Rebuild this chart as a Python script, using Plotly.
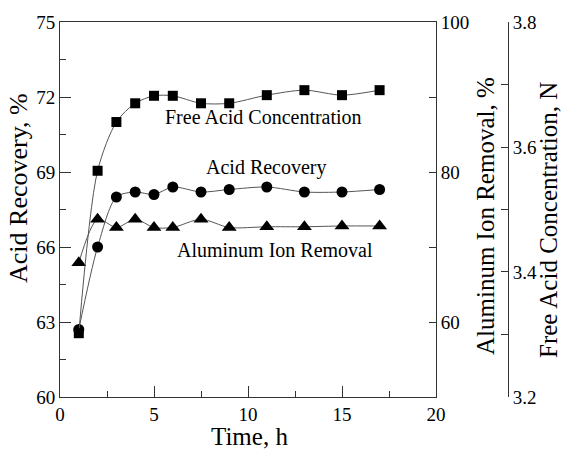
import plotly.graph_objects as go

time_h = [1, 2, 3, 4, 5, 6, 7.5, 9, 11, 13, 15, 17]
acid_recovery = [62.7, 66.0, 68.0, 68.2, 68.1, 68.4, 68.2, 68.3, 68.4, 68.2, 68.2, 68.3]
al_removal = [67.9, 73.7, 72.6, 73.7, 72.6, 72.6, 73.7, 72.6, 72.7, 72.7, 72.8, 72.8]
free_acid = [3.302, 3.562, 3.640, 3.670, 3.682, 3.682, 3.670, 3.670, 3.683, 3.691, 3.683, 3.691]

FONT = "Liberation Serif"
LINE = "#555555"
AX = "#333333"

W, H = 562, 462
ML, MR, MT, MB = 60, 40, 22, 65
PW = W - ML - MR
PH = H - MT - MB
x_end = (436 - ML) / PW
y3_pos = (508 - ML) / PW

def px(xp):
    return (xp - ML) / PW

def py(yp):
    return (MT + PH - yp) / PH

fig = go.Figure()
fig.add_trace(go.Scatter(x=time_h, y=free_acid, yaxis="y3", mode="lines+markers",
                         line=dict(color=LINE, width=1, shape="spline", smoothing=0.8),
                         marker=dict(symbol="square", size=10, color="black")))
fig.add_trace(go.Scatter(x=time_h, y=acid_recovery, yaxis="y", mode="lines+markers",
                         line=dict(color=LINE, width=1, shape="spline", smoothing=0.8),
                         marker=dict(symbol="circle", size=11, color="black")))
fig.add_trace(go.Scatter(x=time_h, y=al_removal, yaxis="y2", mode="lines+markers",
                         line=dict(color=LINE, width=1, shape="spline", smoothing=0.8),
                         marker=dict(symbol="triangle-up", size=13, color="black")))

tickfont = dict(family=FONT, size=19, color="black")

fig.update_layout(
    width=W, height=H,
    margin=dict(l=ML, r=MR, t=MT, b=MB),
    paper_bgcolor="white", plot_bgcolor="white",
    showlegend=False,
    font=dict(family=FONT, color="black"),
    xaxis=dict(domain=[0, x_end], range=[0, 20], dtick=5, tick0=0,
               showgrid=False, zeroline=False, showline=True, linecolor=AX, linewidth=1,
               mirror=True, ticks="inside", ticklen=11, tickcolor=AX,
               minor=dict(dtick=2.5, ticks="inside", ticklen=6, tickcolor=AX),
               tickfont=tickfont),
    yaxis=dict(range=[60, 75], dtick=3, tick0=60,
               showgrid=False, zeroline=False, showline=True, linecolor=AX, linewidth=1,
               ticks="inside", ticklen=11, tickcolor=AX,
               minor=dict(dtick=1.5, ticks="inside", ticklen=6, tickcolor=AX),
               tickfont=tickfont),
    yaxis2=dict(range=[50, 100], dtick=20, tick0=0, overlaying="y", side="right", anchor="x",
                showgrid=False, zeroline=False, showline=True, linecolor=AX, linewidth=1,
                ticks="inside", ticklen=7, tickcolor=AX,
                minor=dict(dtick=10, ticks="inside", ticklen=7, tickcolor=AX),
                tickfont=tickfont),
    yaxis3=dict(range=[3.1999, 3.8001], dtick=0.2, tick0=3.2, overlaying="y", side="right",
                anchor="free", position=y3_pos,
                showgrid=False, zeroline=False, showline=True, linecolor=AX, linewidth=1,
                ticks="inside", ticklen=7, tickcolor=AX, tickformat=".1f",
                minor=dict(dtick=0.1, ticks="inside", ticklen=7, tickcolor=AX),
                tickfont=tickfont),
)

ann = [
    dict(text="Free Acid Concentration", x=10.8, y=71.2, xref="x", yref="y", size=20, angle=0),
    dict(text="Acid Recovery", x=11.0, y=69.2, xref="x", yref="y", size=20, angle=0),
    dict(text="Aluminum Ion Removal", x=11.44, y=65.88, xref="x", yref="y", size=20, angle=0),
    dict(text="Acid Recovery, %", x=px(18), y=py(188), xref="paper", yref="paper", size=26, angle=-90),
    dict(text="Aluminum Ion Removal, %", x=px(485), y=py(216), xref="paper", yref="paper", size=25, angle=-90),
    dict(text="Free Acid Concentration, N", x=px(548), y=py(220), xref="paper", yref="paper", size=25, angle=-90),
    dict(text="Time, h", x=px(249), y=py(436), xref="paper", yref="paper", size=25, angle=0),
]
for a in ann:
    fig.add_annotation(text=a["text"], x=a["x"], y=a["y"], xref=a["xref"], yref=a["yref"],
                       showarrow=False, xanchor="center", yanchor="middle", textangle=a["angle"],
                       font=dict(family=FONT, size=a["size"], color="black"))

fig.write_html("out.html")
